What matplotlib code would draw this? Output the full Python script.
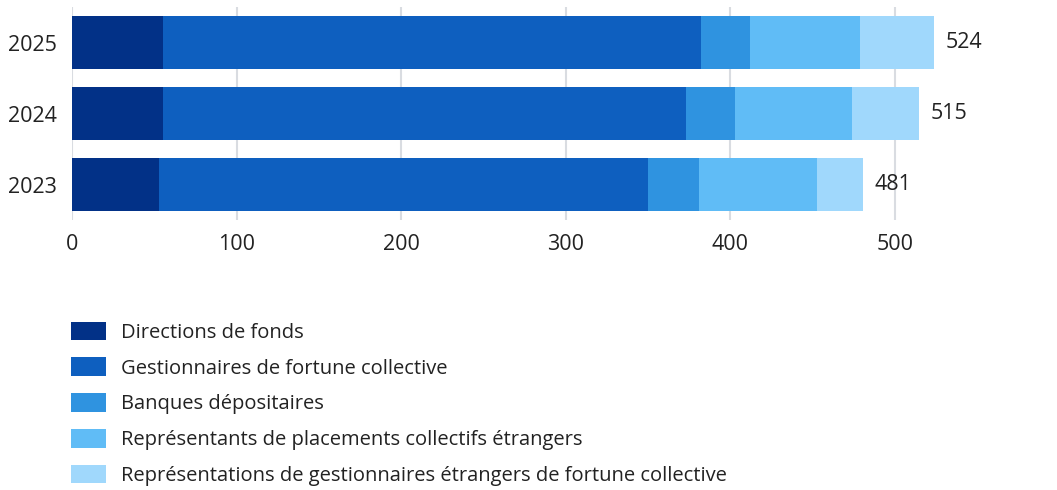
import matplotlib
matplotlib.use('Agg')
import matplotlib.pyplot as plt
import numpy as np

plt.rcParams['font.family'] = ['Open Sans', 'DejaVu Sans']

# data
years = ['2023', '2024', '2025']
categories = ['Directions de fonds',
              'Gestionnaires de fortune collective',
              'Banques dépositaires',
              'Représentants de placements collectifs étrangers',
              'Représentations de gestionnaires étrangers de fortune collective']
directions = [53, 55, 55]
gestionnaires = [297, 318, 327]
banques = [31, 30, 30]
representants = [72, 71, 67]
representations = [28, 41, 45]
totals = [481, 515, 524]

colors = ['#023187', '#0e5fbf', '#2f93e0', '#60bcf6', '#a0d8fc']
text_color = '#222222'

fig = plt.figure(figsize=(10.57, 4.9), dpi=100)
ax = fig.add_axes([72 / 1057, 1 - 220 / 490, 905 / 1057, 213 / 490])

series = [directions, gestionnaires, banques, representants, representations]
y = np.arange(len(years))
left = np.zeros(len(years))
bars = []
for vals, col, lab in zip(series, colors, categories):
    b = ax.barh(y, vals, left=left, height=0.746, color=col, label=lab, zorder=2)
    bars.append(b)
    left += np.array(vals)

# totals at the end of each bar
ax.bar_label(bars[-1], labels=[str(t) for t in totals], padding=8,
             fontsize=15.5, color=text_color)

ax.set_xlim(0, 550)
ax.set_ylim(-0.5, 2.5)
ax.set_xticks([0, 100, 200, 300, 400, 500])
ax.set_yticks(y)
ax.set_yticklabels(years)
ax.tick_params(length=0, labelsize=15.5, colors=text_color)
ax.tick_params(axis='y', pad=11)
ax.tick_params(axis='x', pad=10)
ax.grid(axis='x', color='#d9dce1', linewidth=1.5, zorder=0)
for s in ax.spines.values():
    s.set_visible(False)

fig.legend(handles=bars, labels=categories, loc='upper left',
           bbox_to_anchor=(71 / 1057, 1 - 321.5 / 490), frameon=False,
           fontsize=14.5, handlelength=1.74, handleheight=1.04,
           handletextpad=0.75, labelspacing=0.73, borderpad=0,
           borderaxespad=0, labelcolor=text_color)

fig.savefig('out.png', dpi=100)
